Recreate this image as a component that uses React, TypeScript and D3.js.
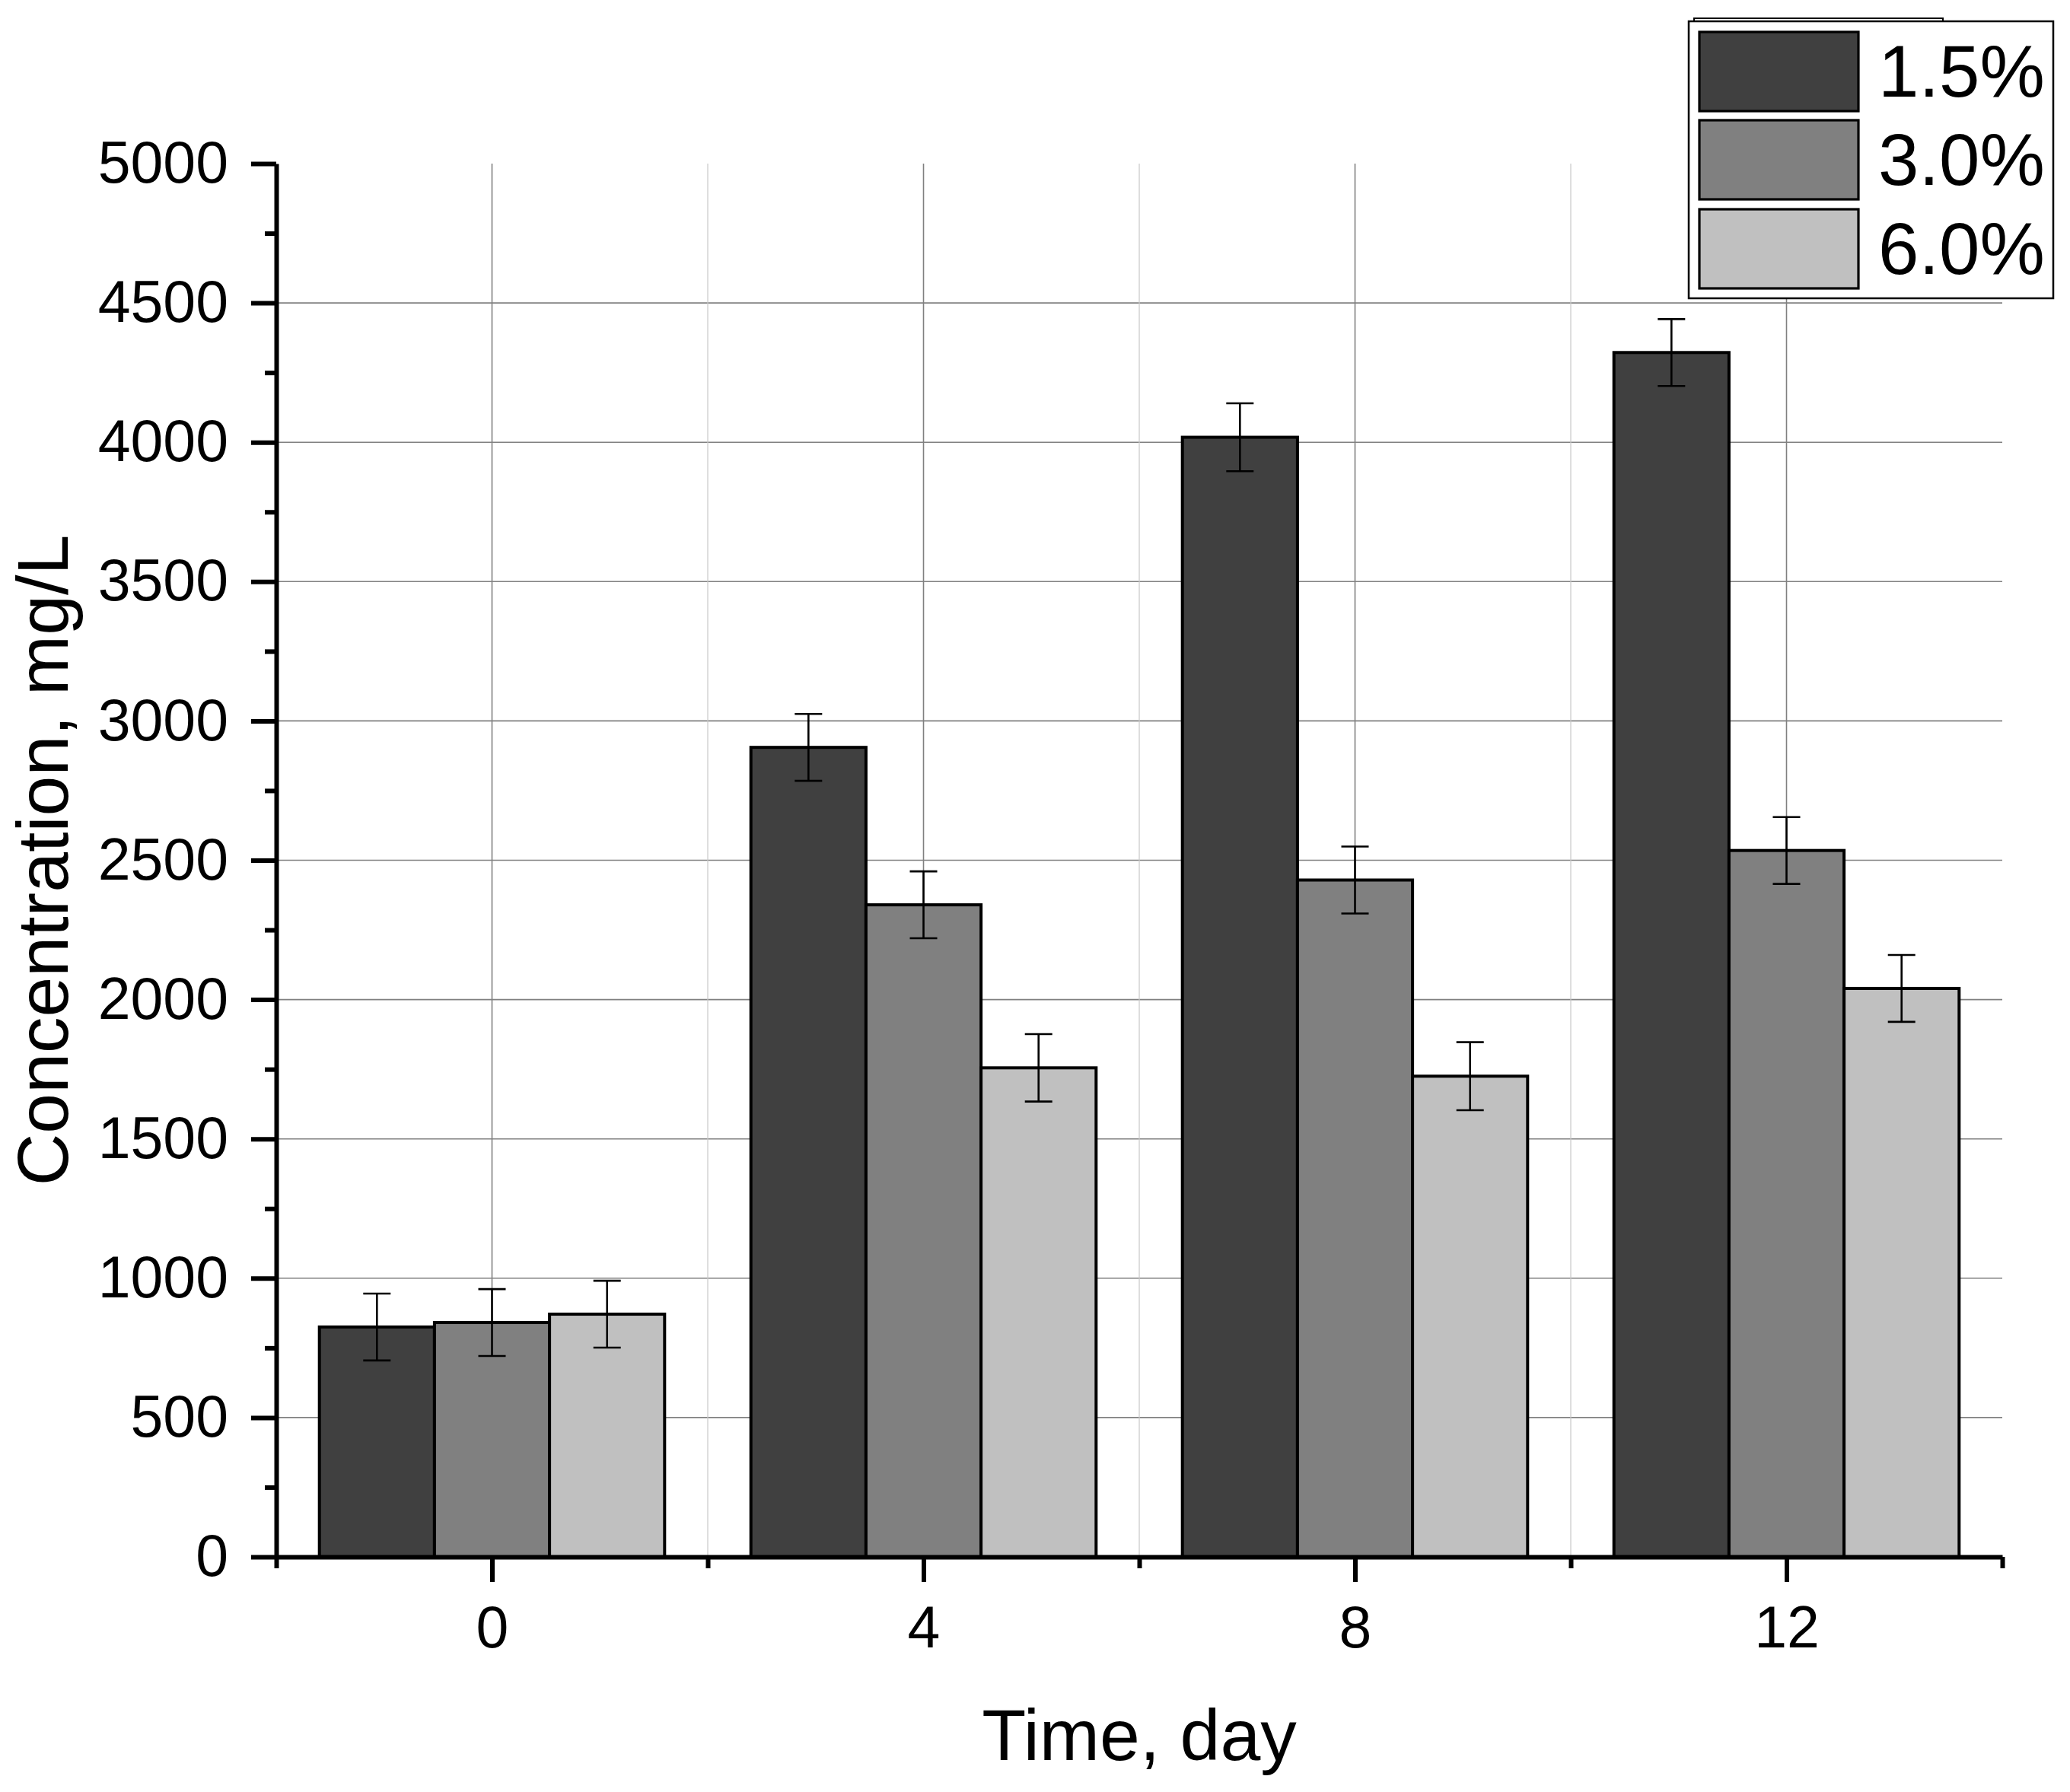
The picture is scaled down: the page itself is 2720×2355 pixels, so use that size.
import React, { useEffect, useRef } from 'react';
import * as d3 from 'd3';

// Days on the x axis and the three concentration series (mg/L)
const days = [0, 4, 8, 12];
const seriesNames = ['1.5%', '3.0%', '6.0%'];
const conc15 = [825, 2905, 4018, 4322];
const conc30 = [841, 2340, 2429, 2535];
const conc60 = [871, 1755, 1725, 2040];
const err15 = [120, 120, 122, 120];
const err30 = [120, 120, 120, 120];
const err60 = [120, 121, 122, 120];
const seriesColors = ['#404040', '#808080', '#c0c0c0'];

const yMajorTicks = d3.range(0, 5001, 500);
const yMinorTicks = d3.range(250, 5000, 500);
const xMajorTicks = [0, 4, 8, 12];
const xMinorTicks = [-2, 2, 6, 10, 14];

const W = 2720;
const H = 2355;
const FONT = '"Liberation Sans", Arial, sans-serif';

const App: React.FC = () => {
  const svgRef = useRef<SVGSVGElement>(null);

  useEffect(() => {
    document.body.style.margin = '0';
    if (!svgRef.current) return;
    const svg = d3.select(svgRef.current);
    svg.selectAll('*').remove();

    const left = 363, right = 2631, top = 215, bottom = 2046;
    const x = d3.scaleLinear().domain([-2, 14]).range([left, right]);
    const y = d3.scaleLinear().domain([0, 5000]).range([bottom, top]);

    const groupW = 3.2; // day units taken by one group of bars
    const barW = groupW / seriesNames.length;

    // grid
    const grid = svg.append('g');
    grid.selectAll('line.hg')
      .data(yMajorTicks.filter(t => t > 0 && t < 5000))
      .join('line')
      .attr('x1', left).attr('x2', right)
      .attr('y1', d => y(d)).attr('y2', d => y(d))
      .attr('stroke', '#808080').attr('stroke-width', 1.6);
    grid.selectAll('line.vg')
      .data(xMajorTicks)
      .join('line')
      .attr('x1', d => x(d)).attr('x2', d => x(d))
      .attr('y1', top).attr('y2', bottom)
      .attr('stroke', '#808080').attr('stroke-width', 1.6);
    grid.selectAll('line.vm')
      .data(xMinorTicks.slice(1, -1))
      .join('line')
      .attr('class', 'vm')
      .attr('x1', d => x(d)).attr('x2', d => x(d))
      .attr('y1', top).attr('y2', bottom)
      .attr('stroke', '#c8c8c8').attr('stroke-width', 1.2);

    const values = [conc15, conc30, conc60];
    const errors = [err15, err30, err60];

    const rows = values.flatMap((vals, si) =>
      vals.map((v, di) => ({
        si,
        day: days[di],
        v,
        e: errors[si][di],
      }))
    );

    // bars
    svg.append('g')
      .selectAll('rect')
      .data(rows)
      .join('rect')
      .attr('x', d => x(d.day - groupW / 2 + d.si * barW))
      .attr('width', d => x(d.day - groupW / 2 + (d.si + 1) * barW) - x(d.day - groupW / 2 + d.si * barW))
      .attr('y', d => y(d.v))
      .attr('height', d => y(0) - y(d.v))
      .attr('fill', d => seriesColors[d.si])
      .attr('stroke', '#000')
      .attr('stroke-width', 4);

    // error bars
    const capHalf = 18;
    const eb = svg.append('g').attr('stroke', '#000').attr('stroke-width', 2.6);
    rows.forEach(d => {
      const cx = x(d.day - groupW / 2 + (d.si + 0.5) * barW);
      eb.append('line').attr('x1', cx).attr('x2', cx).attr('y1', y(d.v + d.e)).attr('y2', y(d.v - d.e));
      eb.append('line').attr('x1', cx - capHalf).attr('x2', cx + capHalf).attr('y1', y(d.v + d.e)).attr('y2', y(d.v + d.e));
      eb.append('line').attr('x1', cx - capHalf).attr('x2', cx + capHalf).attr('y1', y(d.v - d.e)).attr('y2', y(d.v - d.e));
    });

    // axes
    const styleAxis = (g: d3.Selection<SVGGElement, unknown, null, undefined>) => {
      g.select('.domain').attr('stroke', '#000').attr('stroke-width', 6);
      g.selectAll('.tick line').attr('stroke', '#000').attr('stroke-width', 6);
      g.selectAll('.tick text')
        .attr('fill', '#000')
        .style('font-family', FONT)
        .style('font-size', '77px');
    };

    const yMinor = svg.append('g').attr('transform', `translate(${left},0)`)
      .call(d3.axisLeft(y).tickValues(yMinorTicks).tickSize(15).tickSizeOuter(0).tickFormat(() => ''));
    styleAxis(yMinor);
    yMinor.select('.domain').remove();
    const yMajor = svg.append('g').attr('transform', `translate(${left},0)`)
      .call(d3.axisLeft(y).tickValues(yMajorTicks).tickSize(33).tickSizeOuter(0).tickPadding(30).tickFormat(d3.format('d')));
    styleAxis(yMajor);

    const xMinor = svg.append('g').attr('transform', `translate(0,${bottom})`)
      .call(d3.axisBottom(x).tickValues(xMinorTicks).tickSize(15).tickSizeOuter(0).tickFormat(() => ''));
    styleAxis(xMinor);
    xMinor.select('.domain').remove();
    const xMajor = svg.append('g').attr('transform', `translate(0,${bottom})`)
      .call(d3.axisBottom(x).tickValues(xMajorTicks).tickSize(33).tickSizeOuter(0).tickPadding(31).tickFormat(d3.format('d')));
    styleAxis(xMajor);

    // axis titles
    svg.append('text')
      .attr('x', (left + right) / 2).attr('y', 2313)
      .attr('text-anchor', 'middle')
      .style('font-family', FONT).style('font-size', '95px')
      .text('Time, day');
    svg.append('text')
      .attr('transform', `translate(89,${(top + bottom) / 2}) rotate(-90)`)
      .attr('text-anchor', 'middle')
      .style('font-family', FONT).style('font-size', '95px')
      .text('Concentration, mg/L');

    // legend
    const lg = svg.append('g');
    lg.append('rect').attr('x', 2226).attr('y', 24).attr('width', 327).attr('height', 30)
      .attr('fill', '#fff').attr('stroke', '#000').attr('stroke-width', 2);
    lg.append('rect').attr('x', 2219).attr('y', 28).attr('width', 479).attr('height', 364)
      .attr('fill', '#fff').attr('stroke', '#000').attr('stroke-width', 2.5);
    const sw = [42, 158, 275];
    seriesNames.forEach((name, i) => {
      lg.append('rect').attr('x', 2233).attr('y', sw[i]).attr('width', 209).attr('height', 104)
        .attr('fill', seriesColors[i]).attr('stroke', '#000').attr('stroke-width', 3.2);
      lg.append('text').attr('x', 2468).attr('y', sw[i] + 85)
        .style('font-family', FONT).style('font-size', '96px')
        .text(name);
    });
  }, []);

  return (
    <svg ref={svgRef} width={W} height={H} style={{ display: 'block', background: '#fff' }} />
  );
};

export default App;
